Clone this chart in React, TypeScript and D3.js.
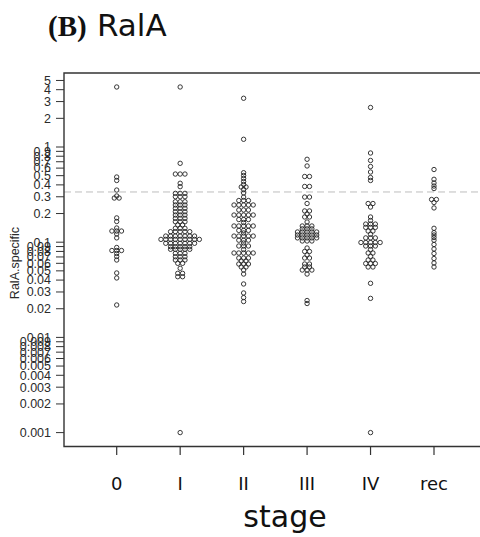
import React from "react";
import * as d3 from "d3";

const stages = ["0", "I", "II", "III", "IV", "rec"];

const stage0 = [4.27, 0.484, 0.445, 0.353, 0.306, 0.291, 0.291, 0.18, 0.165, 0.141, 0.131, 0.131, 0.131, 0.122, 0.111, 0.088, 0.0818, 0.0818, 0.0818, 0.0761, 0.0708, 0.065, 0.0475, 0.0421, 0.0219];

const stageI = [4.27, 0.674, 0.52, 0.52, 0.52, 0.416, 0.383, 0.326, 0.326, 0.326, 0.3005, 0.3005, 0.3005, 0.266, 0.266, 0.266, 0.246, 0.246, 0.246, 0.227, 0.227, 0.227, 0.209, 0.209, 0.209, 0.193, 0.193, 0.193, 0.178, 0.178, 0.178, 0.164, 0.164, 0.164, 0.152, 0.152, 0.14, 0.14, 0.14, 0.129, 0.129, 0.129, 0.129, 0.129, 0.116, 0.116, 0.116, 0.116, 0.116, 0.116, 0.116, 0.107, 0.107, 0.107, 0.107, 0.107, 0.107, 0.107, 0.107, 0.107, 0.0974, 0.0974, 0.0974, 0.0974, 0.0974, 0.0974, 0.0974, 0.0897, 0.0897, 0.0897, 0.0897, 0.0897, 0.0842, 0.0842, 0.0842, 0.0842, 0.0842, 0.0764, 0.0764, 0.0764, 0.0704, 0.0704, 0.0704, 0.065, 0.065, 0.065, 0.06, 0.06, 0.0532, 0.0471, 0.0471, 0.0434, 0.0434, 0.001];

const stageII = [3.25, 1.205, 0.537, 0.502, 0.467, 0.434, 0.404, 0.38, 0.38, 0.358, 0.329, 0.298, 0.274, 0.274, 0.274, 0.246, 0.246, 0.246, 0.246, 0.246, 0.218, 0.218, 0.218, 0.193, 0.193, 0.193, 0.193, 0.193, 0.173, 0.173, 0.173, 0.161, 0.148, 0.148, 0.148, 0.148, 0.148, 0.133, 0.133, 0.133, 0.125, 0.116, 0.116, 0.116, 0.116, 0.116, 0.105, 0.105, 0.105, 0.0981, 0.0912, 0.0912, 0.0912, 0.0838, 0.077, 0.077, 0.077, 0.077, 0.077, 0.0682, 0.0682, 0.0682, 0.0635, 0.0635, 0.059, 0.059, 0.059, 0.0549, 0.0549, 0.051, 0.0463, 0.0364, 0.0293, 0.0262, 0.0238];

const stageIII = [0.743, 0.632, 0.49, 0.49, 0.385, 0.385, 0.298, 0.298, 0.255, 0.213, 0.213, 0.198, 0.184, 0.184, 0.163, 0.148, 0.148, 0.148, 0.138, 0.138, 0.138, 0.128, 0.128, 0.128, 0.128, 0.128, 0.119, 0.119, 0.119, 0.119, 0.119, 0.111, 0.111, 0.111, 0.111, 0.111, 0.103, 0.103, 0.103, 0.0869, 0.0799, 0.0799, 0.0734, 0.0682, 0.0682, 0.059, 0.059, 0.0549, 0.0549, 0.051, 0.051, 0.051, 0.0463, 0.0244, 0.0227];

const stageIV = [2.6, 0.865, 0.722, 0.624, 0.546, 0.478, 0.445, 0.255, 0.255, 0.234, 0.184, 0.169, 0.155, 0.155, 0.155, 0.143, 0.143, 0.143, 0.131, 0.131, 0.121, 0.111, 0.111, 0.111, 0.0993, 0.0993, 0.0993, 0.0993, 0.0993, 0.0912, 0.0912, 0.0912, 0.0838, 0.077, 0.077, 0.0708, 0.065, 0.065, 0.0597, 0.0597, 0.0597, 0.0549, 0.0549, 0.037, 0.0257, 0.001];

const stageRec = [0.58, 0.458, 0.419, 0.389, 0.366, 0.281, 0.281, 0.261, 0.229, 0.14, 0.126, 0.119, 0.112, 0.105, 0.0946, 0.0849, 0.0761, 0.0674, 0.0605, 0.0549];

const series = [stage0, stageI, stageII, stageIII, stageIV, stageRec];

const yTickValues = [
  0.001, 0.002, 0.003, 0.004, 0.005, 0.006, 0.007, 0.008, 0.009,
  0.01, 0.02, 0.03, 0.04, 0.05, 0.06, 0.07, 0.08, 0.09,
  0.1, 0.2, 0.3, 0.4, 0.5, 0.6, 0.7, 0.8, 0.9,
  1, 2, 3, 4, 5,
];

const cutoff = 0.337;

export default function App() {
  const W = 480;
  const H = 537;
  const left = 64;
  const top = 73;
  const bottom = 446.5;

  const x = d3.scalePoint<string>().domain(stages).range([116.7, 434]);
  const y = d3.scaleLog().domain([0.001, 1]).range([432.6, 147]);

  const spacing = 4.8;
  const points = stages.flatMap((s, i) => {
    const groups = d3.groups(series[i], (v) => v);
    return groups.flatMap(([v, arr]) =>
      arr.map((_, k) => ({
        key: `${s}-${v}-${k}`,
        cx: (x(s) as number) + (k - (arr.length - 1) / 2) * spacing,
        cy: y(v),
      }))
    );
  });

  const axisColor = "#333";
  const sans = "DejaVu Sans, Verdana, sans-serif";
  const arial = "Liberation Sans, Arial, sans-serif";

  return (
    <svg
      width={W}
      height={H}
      style={{ position: "absolute", left: 0, top: 0, background: "#fff" }}
    >
      <rect x={0} y={0} width={W} height={H} fill="#fff" />
      {/* title */}
      <text x={48} y={36} fontFamily="Liberation Serif, Times New Roman, serif" fontWeight="bold" fontSize={29} fill="#111">
        (B)
      </text>
      <text x={97} y={36} fontFamily={sans} fontSize={31} fill="#111">
        RalA
      </text>

      {/* cutoff dashed line */}
      <line
        x1={left}
        x2={W}
        y1={y(cutoff)}
        y2={y(cutoff)}
        stroke="#bdbdbd"
        strokeWidth={1}
        strokeDasharray="7,4"
      />

      {/* frame */}
      <path
        d={`M${W + 5},${top} H${left} V${bottom} H${W + 5}`}
        fill="none"
        stroke={axisColor}
        strokeWidth={1.4}
      />

      {/* y ticks */}
      {yTickValues.map((t) => (
        <g key={`yt-${t}`}>
          <line x1={56} x2={left} y1={y(t)} y2={y(t)} stroke={axisColor} strokeWidth={1} />
          <text
            x={51}
            y={y(t)}
            dy="0.35em"
            textAnchor="end"
            fontFamily={arial}
            fontSize={12.5}
            fill="#2a2a2a"
          >
            {String(t)}
          </text>
        </g>
      ))}

      {/* y axis title */}
      <text
        transform={`translate(19,263) rotate(-90)`}
        textAnchor="middle"
        fontFamily={arial}
        fontSize={12.5}
        fill="#2a2a2a"
      >
        RalA.specific
      </text>

      {/* x ticks */}
      {stages.map((s) => (
        <g key={`xt-${s}`}>
          <line x1={x(s)} x2={x(s)} y1={bottom} y2={455} stroke={axisColor} strokeWidth={1.2} />
          <text
            x={x(s)}
            y={490}
            textAnchor="middle"
            fontFamily={sans}
            fontSize={18}
            fill="#111"
          >
            {s}
          </text>
        </g>
      ))}

      <text x={285} y={527} textAnchor="middle" fontFamily={sans} fontSize={30} fill="#111">
        stage
      </text>

      {/* points */}
      {points.map((p) => (
        <circle
          key={p.key}
          cx={p.cx}
          cy={p.cy}
          r={2.2}
          fill="none"
          stroke="#222"
          strokeWidth={0.9}
        />
      ))}
    </svg>
  );
}
